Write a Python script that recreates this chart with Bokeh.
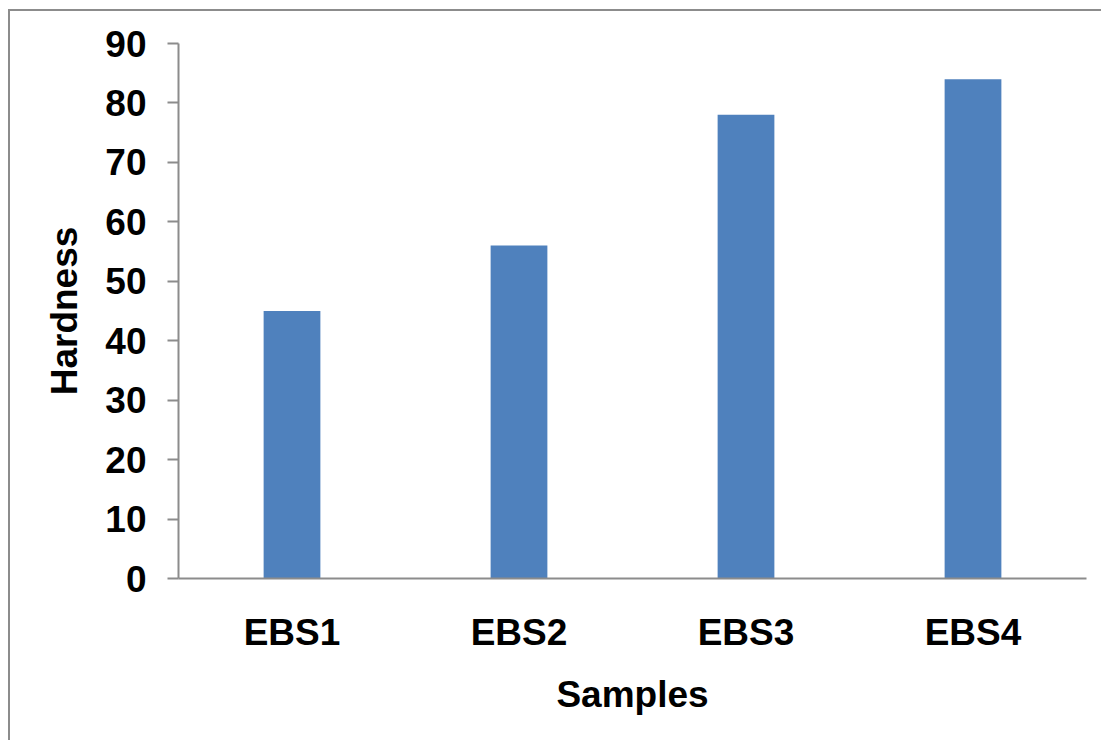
from bokeh.plotting import figure
from bokeh.models import FactorRange, Range1d, FixedTicker, ColumnDataSource
from bokeh.embed import file_html
from bokeh.resources import INLINE

categories = ["EBS1", "EBS2", "EBS3", "EBS4"]
hardness = [45, 56, 78, 84]
y_ticks = [0, 10, 20, 30, 40, 50, 60, 70, 80, 90]

FONT = "Liberation Sans"
AXIS_COLOR = "#8c8c8c"
BAR_COLOR = "#4f81bd"

source = ColumnDataSource(data=dict(cat=categories, val=hardness))

p = figure(
    x_range=FactorRange(*categories, range_padding=0),
    y_range=Range1d(0, 90),
    width=1093, height=731,
    output_backend="svg", toolbar_location=None,
    min_border_left=168, min_border_right=17,
    min_border_top=32, min_border_bottom=164,
)
p.margin = (9, 0, 0, 8)
p.styles = {"border-top": "2px solid #8c8c8c", "border-left": "2px solid #8c8c8c"}

p.vbar(x="cat", top="val", width=0.25, source=source,
       fill_color=BAR_COLOR, line_color=None)

p.outline_line_color = None
p.xgrid.grid_line_color = None
p.ygrid.grid_line_color = None
p.background_fill_color = "white"
p.border_fill_color = "white"

# y axis
ya = p.yaxis[0]
ya.ticker = FixedTicker(ticks=y_ticks)
ya.minor_tick_line_color = None
ya.major_tick_in = 0
ya.major_tick_out = 11
ya.major_tick_line_color = AXIS_COLOR
ya.major_tick_line_width = 2
ya.axis_line_color = AXIS_COLOR
ya.axis_line_width = 2
ya.major_label_text_font = FONT
ya.major_label_text_font_style = "bold"
ya.major_label_text_font_size = "37px"
ya.major_label_text_color = "black"
ya.major_label_standoff = 21
ya.axis_label = "Hardness"
ya.axis_label_text_font = FONT
ya.axis_label_text_font_style = "bold"
ya.axis_label_text_font_size = "37px"
ya.axis_label_text_color = "black"
ya.axis_label_standoff = 17

# x axis
xa = p.xaxis[0]
xa.major_tick_in = 0
xa.major_tick_out = 0
xa.minor_tick_line_color = None
xa.axis_line_color = AXIS_COLOR
xa.axis_line_width = 2
xa.major_label_text_font = FONT
xa.major_label_text_font_style = "bold"
xa.major_label_text_font_size = "37px"
xa.major_label_text_color = "black"
xa.major_label_standoff = 33
xa.axis_label = "Samples"
xa.axis_label_text_font = FONT
xa.axis_label_text_font_style = "bold"
xa.axis_label_text_font_size = "37px"
xa.axis_label_text_color = "black"
xa.axis_label_standoff = 18

open("out.html", "w").write(file_html(p, INLINE))
